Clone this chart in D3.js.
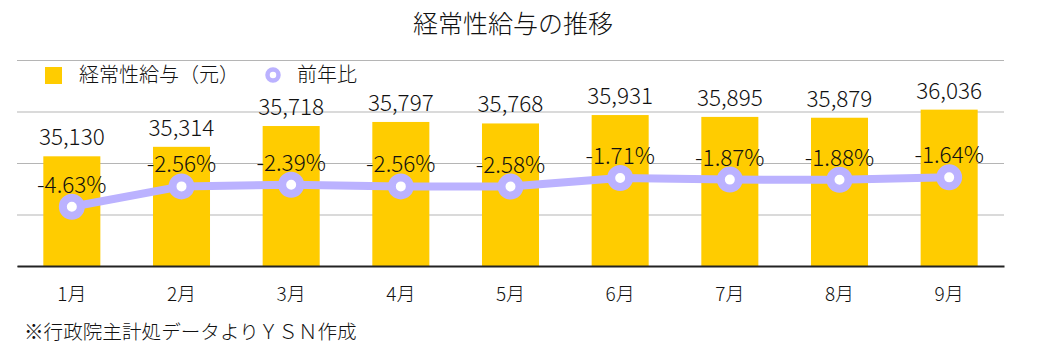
<!DOCTYPE html>
<html><head><meta charset="utf-8">
<script src="https://cdn.jsdelivr.net/npm/d3@7"></script>
<style>
body{margin:0;background:#fff;}
text{font-family:"Noto Sans CJK JP","Noto Sans",sans-serif;fill:#111;font-weight:300;}
</style></head>
<body><svg id="c" width="1042" height="351"></svg>
<script>
const months = ["1月","2月","3月","4月","5月","6月","7月","8月","9月"];
const salary = [35130,35314,35718,35797,35768,35931,35895,35879,36036];
const yoy = [-4.63,-2.56,-2.39,-2.56,-2.58,-1.71,-1.87,-1.88,-1.64];
const salaryTicks = [33000,34000,35000,36000,37000];
const title = "経常性給与の推移";
const legendBar = "経常性給与（元）";
const legendLine = "前年比";
const note = "※行政院主計処データよりＹＳＮ作成";

const svg = d3.select("#c");
const L = 17, R = 1004, T = 60, B = 266;
const barColor = "#ffcc00", lineColor = "#bbb2ff";

const x = d3.scaleBand().domain(months).range([L, R]).paddingInner(0.48).paddingOuter(0.24);
const y = d3.scaleLinear().domain([33000, 37000]).range([B, T]);
const y2 = d3.scaleLinear().domain([-10.66, 10.3]).range([B, T]);

svg.append("text").attr("x", 513).attr("y", 33).attr("text-anchor", "middle")
  .style("font-size", "25px").text(title);

// grid
const grid = d3.axisLeft(y).tickValues(salaryTicks).tickSize(-(R - L)).tickFormat("");
svg.append("g").attr("transform", `translate(${L},0)`).call(grid)
  .call(g => g.select(".domain").remove())
  .call(g => g.selectAll("line").attr("stroke", "#b5b5b5").attr("stroke-width", 1));

// bars
svg.append("g").selectAll("rect").data(salary).join("rect")
  .attr("x", (d, i) => x(months[i])).attr("width", x.bandwidth())
  .attr("y", d => y(d)).attr("height", d => B - y(d)).attr("fill", barColor);

// baseline axis
const xa = d3.axisBottom(x).tickSize(0).tickPadding(22);
svg.append("g").attr("transform", `translate(0,${B})`).call(xa)
  .call(g => g.select(".domain").attr("stroke", "#222").attr("stroke-width", 2))
  .call(g => g.selectAll("text").style("font-size", "19px").attr("fill", "#111")
      .style("font-family", '"Noto Sans CJK JP",sans-serif').style("font-weight", 300));

// bar labels
svg.append("g").selectAll("text").data(salary).join("text")
  .attr("x", (d, i) => x(months[i]) + x.bandwidth() / 2).attr("y", d => y(d) - 11)
  .attr("text-anchor", "middle").style("font-size", "22.5px").text(d => d3.format(",")(d));

// line
const cx = (d, i) => x(months[i]) + x.bandwidth() / 2;
const line = d3.line().x((d, i) => cx(d, i)).y(d => y2(d));
svg.append("path").datum(yoy).attr("d", line).attr("fill", "none")
  .attr("stroke", lineColor).attr("stroke-width", 8).attr("stroke-linejoin", "round");
svg.append("g").selectAll("circle").data(yoy).join("circle")
  .attr("cx", cx).attr("cy", d => y2(d)).attr("r", 9)
  .attr("fill", "#fff").attr("stroke", lineColor).attr("stroke-width", 8);
svg.append("g").selectAll("text").data(yoy).join("text")
  .attr("x", cx).attr("y", d => y2(d) - 14).attr("text-anchor", "middle")
  .style("font-size", "22.5px").text(d => d.toFixed(2) + "%");

// legend
const lg = svg.append("g");
lg.append("rect").attr("x", 45).attr("y", 67).attr("width", 17).attr("height", 17).attr("fill", barColor);
lg.append("text").attr("x", 79).attr("y", 82).style("font-size", "20px").text(legendBar);
lg.append("circle").attr("cx", 273).attr("cy", 75).attr("r", 5.5)
  .attr("fill", "#fff").attr("stroke", lineColor).attr("stroke-width", 4.5);
lg.append("text").attr("x", 297).attr("y", 82).style("font-size", "20px").text(legendLine);

// note
svg.append("text").attr("x", 24).attr("y", 339).style("font-size", "19.6px").text(note);
</script></body></html>
